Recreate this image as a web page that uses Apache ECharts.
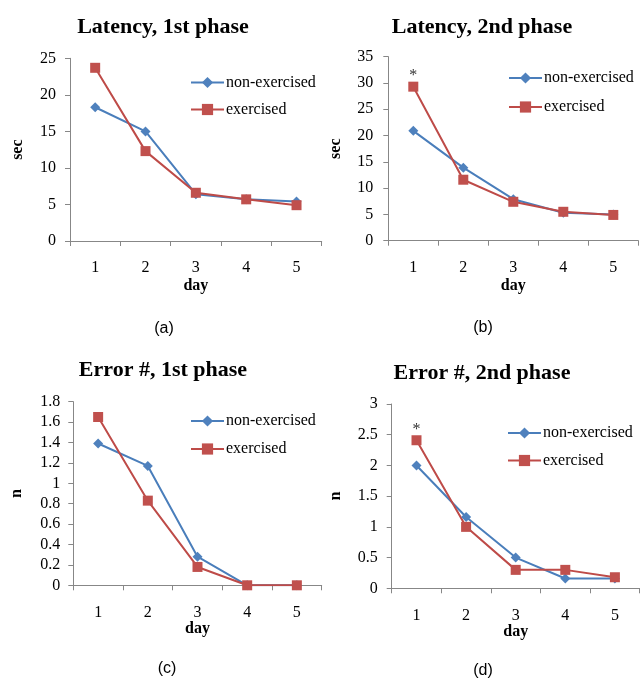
<!DOCTYPE html>
<html>
<head>
<meta charset="utf-8">
<script src="https://cdn.jsdelivr.net/npm/echarts@6/dist/echarts.min.js"></script>
<style>
html,body{margin:0;padding:0;background:#fff;}
#chart{width:640px;height:681px;}
</style>
</head>
<body>
<div id="chart"></div>
<script>
// ---- data ----
var days = ['1', '2', '3', '4', '5'];
var seriesNames = ['non-exercised', 'exercised'];
var panelTitles = ['Latency, 1st phase', 'Latency, 2nd phase', 'Error #, 1st phase', 'Error #, 2nd phase'];
var panelTags = ['(a)', '(b)', '(c)', '(d)'];
var yNames = ['sec', 'sec', 'n', 'n'];
var xName = 'day';

var latency1NonEx = [18.3, 15.0, 6.4, 5.7, 5.4];
var latency1Ex    = [23.7, 12.3, 6.6, 5.7, 4.9];
var latency2NonEx = [20.9, 13.9, 7.9, 5.3, 5.0];
var latency2Ex    = [29.3, 11.6, 7.4, 5.5, 4.9];
var error1NonEx   = [1.39, 1.17, 0.28, 0, 0];
var error1Ex      = [1.65, 0.83, 0.18, 0, 0];
var error2NonEx   = [2.0, 1.16, 0.5, 0.16, 0.16];
var error2Ex      = [2.41, 1.0, 0.3, 0.3, 0.18];

var yMax = [25, 35, 1.8, 3];
var yStep = [5, 5, 0.2, 0.5];
var starDayIndex = [null, 0, null, 0]; // significance marks

// ---- layout ----
var grids = [
  {left: 70, top: 58.3, width: 251.7, height: 182.7},
  {left: 388.3, top: 56.7, width: 250, height: 184},
  {left: 73.3, top: 401.7, width: 248.4, height: 183.6},
  {left: 391.7, top: 404, width: 248, height: 184.3}
];
var titlePos = [[163, 16], [482, 16], [163, 359], [482, 362]];
var tagPos = [[164, 321], [483, 320], [167, 661], [483, 663]];
var legendPos = [[190, 74.5], [508, 70], [190, 413], [507, 425]];
var legendGap = [11, 13, 12, 11.5];
var xNameGap = [37, 37, 36, 25];
var yNameGap = [44, 44, 48, 48];
var yLabelMargin = [14, 15, 13, 14];

var nonEx = [latency1NonEx, latency2NonEx, error1NonEx, error2NonEx];
var ex = [latency1Ex, latency2Ex, error1Ex, error2Ex];

var SERIF = '"Liberation Serif","Times New Roman",serif';
var SANS = '"Liberation Sans",Arial,sans-serif';
var AXIS_COLOR = '#878787';
var BLUE_LINE = '#4A7EBB', BLUE = '#4F81BD';
var RED_LINE = '#BE4B48', RED = '#C0504D';

var option = {
  animation: false,
  backgroundColor: '#fff',
  title: [],
  grid: [],
  xAxis: [],
  yAxis: [],
  legend: [],
  series: []
};

for (var i = 0; i < 4; i++) {
  option.title.push({
    text: panelTitles[i], left: titlePos[i][0], top: titlePos[i][1], textAlign: 'center', padding: 0,
    textStyle: {fontFamily: SERIF, fontWeight: 'bold', fontSize: 22, color: '#000'}
  });
  option.title.push({
    text: panelTags[i], left: tagPos[i][0], top: tagPos[i][1], textAlign: 'center', padding: 0,
    textStyle: {fontFamily: SANS, fontWeight: 'normal', fontSize: 16, color: '#000'}
  });
  option.grid.push(grids[i]);
  option.xAxis.push({
    type: 'category', gridIndex: i, data: days, boundaryGap: true,
    name: xName, nameLocation: 'middle', nameGap: xNameGap[i],
    nameTextStyle: {fontFamily: SERIF, fontWeight: 'bold', fontSize: 16, color: '#000'},
    axisLine: {lineStyle: {color: AXIS_COLOR, width: 1}},
    axisTick: {show: true, length: 5, lineStyle: {color: AXIS_COLOR}},
    axisLabel: {fontFamily: SERIF, fontSize: 16, color: '#000', margin: 19},
    splitLine: {show: false}
  });
  option.yAxis.push({
    type: 'value', gridIndex: i, min: 0, max: yMax[i], interval: yStep[i],
    name: yNames[i], nameLocation: 'middle', nameGap: yNameGap[i],
    nameTextStyle: {fontFamily: SERIF, fontWeight: 'bold', fontSize: 16, color: '#000'},
    axisLine: {show: true, lineStyle: {color: AXIS_COLOR, width: 1}},
    axisTick: {show: true, length: 5, lineStyle: {color: AXIS_COLOR}},
    axisLabel: {fontFamily: SERIF, fontSize: 16, color: '#000', margin: yLabelMargin[i]},
    splitLine: {show: false}
  });
  option.legend.push({
    data: seriesNames, orient: 'vertical', left: legendPos[i][0], top: legendPos[i][1],
    padding: 0, itemGap: legendGap[i], itemWidth: 33, itemHeight: 14,
    textStyle: {fontFamily: SERIF, fontSize: 16, color: '#000', padding: [0, 0, 0, -3]},
    selectedMode: false
  });
  option.series.push({
    name: seriesNames[0], type: 'line', xAxisIndex: i, yAxisIndex: i, data: nonEx[i],
    symbol: 'diamond', symbolSize: 10,
    lineStyle: {color: BLUE_LINE, width: 2},
    itemStyle: {color: BLUE, borderColor: BLUE, borderWidth: 0}
  });
  var exSeries = {
    name: seriesNames[1], type: 'line', xAxisIndex: i, yAxisIndex: i, data: ex[i],
    symbol: 'rect', symbolSize: 10,
    lineStyle: {color: RED_LINE, width: 2},
    itemStyle: {color: RED, borderColor: RED, borderWidth: 0}
  };
  if (starDayIndex[i] !== null) {
    var k = starDayIndex[i];
    exSeries.markPoint = {
      symbol: 'rect', symbolSize: 1, itemStyle: {color: 'rgba(0,0,0,0)'},
      label: {show: true, formatter: '*', position: 'top', distance: 2,
              fontFamily: SERIF, fontSize: 16, color: '#333'},
      data: [{coord: [days[k], ex[i][k]]}]
    };
  }
  option.series.push(exSeries);
}

var chart = echarts.init(document.getElementById('chart'), null, {renderer: 'canvas'});
chart.setOption(option);
</script>
</body>
</html>
